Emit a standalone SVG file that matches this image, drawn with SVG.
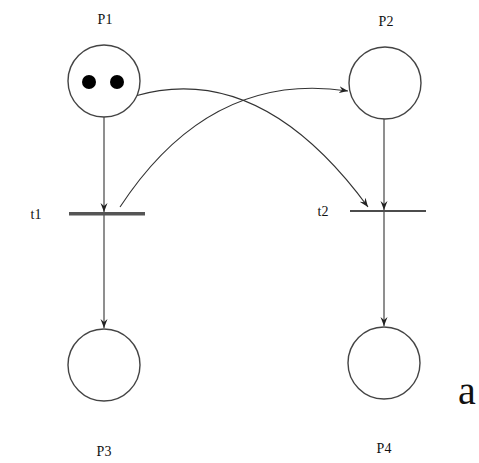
<svg xmlns="http://www.w3.org/2000/svg" width="479" height="463" viewBox="0 0 479 463">
<style>
.place{fill:#fff;stroke:#444;stroke-width:1.4}
.tok{fill:#000}
.lbl{font-family:"Liberation Serif",serif;font-size:14px;fill:#111;text-anchor:middle}
.arc{fill:none;stroke:#333;stroke-width:1.1}
</style>
<defs>
<marker id="ah" markerWidth="10" markerHeight="8" refX="9" refY="4" orient="auto" markerUnits="userSpaceOnUse">
<path d="M0,0.5 L9,4 L0,7.5 L3,4 Z" fill="#222"/>
</marker>
</defs>
<rect width="479" height="463" fill="#fff"/>
<g id="connectors">
<path class="arc" d="M104,117 L104,212" marker-end="url(#ah)"/>
<path class="arc" d="M104,214 L104,328" marker-end="url(#ah)"/>
<path class="arc" d="M384,119 L384,210" marker-end="url(#ah)"/>
<path class="arc" d="M384,212 L384,326" marker-end="url(#ah)"/>
<path class="arc" d="M135,96 Q260,60 368,207" marker-end="url(#ah)"/>
<path class="arc" d="M120,207 Q210,70 348,91" marker-end="url(#ah)"/>
</g>
<g id="P1">
<circle class="place" cx="104" cy="81" r="36"/>
<circle class="tok" cx="89" cy="82" r="7"/>
<circle class="tok" cx="117" cy="82" r="7"/>
<text class="lbl" x="105" y="24">P1</text>
</g>
<g id="P2">
<circle class="place" cx="385" cy="83" r="36"/>
<text class="lbl" x="386" y="26">P2</text>
</g>
<g id="P3">
<circle class="place" cx="104" cy="365" r="36"/>
<text class="lbl" x="104" y="456">P3</text>
</g>
<g id="P4">
<circle class="place" cx="384" cy="363" r="36"/>
<text class="lbl" x="384" y="453">P4</text>
</g>
<g id="t1">
<rect x="69" y="212" width="76" height="3.5" fill="#555"/>
<text class="lbl" x="36" y="219">t1</text>
</g>
<g id="t2">
<line x1="350" y1="211" x2="426" y2="211" stroke="#111" stroke-width="1.5"/>
<text class="lbl" x="323" y="216">t2</text>
</g>
<text x="458" y="404" font-family="Liberation Serif,serif" font-size="40" fill="#111">a</text>
</svg>
